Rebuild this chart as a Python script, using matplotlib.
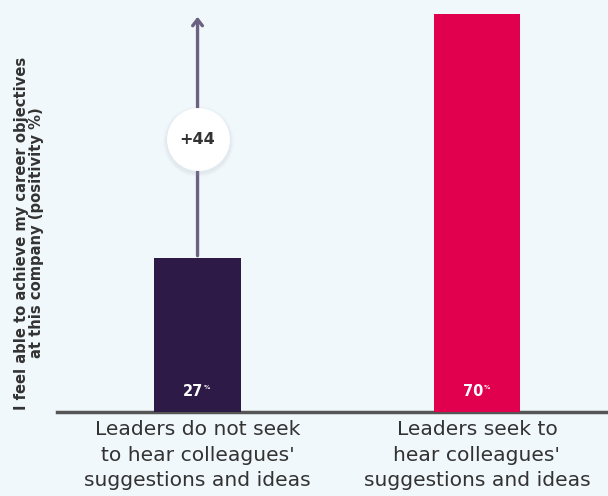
import matplotlib
matplotlib.use("Agg")
import matplotlib.pyplot as plt

categories = ["Leaders do not seek\nto hear colleagues'\nsuggestions and ideas",
              "Leaders seek to\nhear colleagues'\nsuggestions and ideas"]
values = [27, 70]
colors = ["#2e1a47", "#e0004d"]
diff_label = "+44"
ylabel = "I feel able to achieve my career objectives\nat this company (positivity %)"

bg = "#f1f8fb"
fig = plt.figure(figsize=(6.08, 4.96), dpi=100, facecolor=bg)
ax = fig.add_axes([57 / 608, 84 / 496, 551 / 608, 398 / 496], facecolor=bg)

x = [0, 1]
ax.bar(x, values, width=0.311, color=colors, zorder=3)
ax.set_xlim(-0.503, 1.469)
ax.set_ylim(0, 70)

for s in ["top", "right", "left"]:
    ax.spines[s].set_visible(False)
ax.spines["bottom"].set_color("#555555")
ax.spines["bottom"].set_linewidth(2.5)
ax.set_yticks([])
ax.set_xticks(x)
ax.set_xticklabels(categories, fontsize=14.6, color="#333333", linespacing=1.42)
ax.tick_params(axis="x", length=0, pad=6)

# value labels inside the bars
for xi, v in zip(x, values):
    ax.annotate(str(v), (xi, 0), xytext=(-3, 9), textcoords="offset points",
                ha="center", va="bottom", color="white", fontsize=10.5,
                fontweight="bold", zorder=5)
    ax.annotate("%", (xi, 0), xytext=(7, 16), textcoords="offset points",
                ha="center", va="bottom", color="white", fontsize=4.5,
                fontweight="bold", zorder=5)

# gap arrow from the low bar up to the high bar level
ax.annotate("", xy=(x[0], values[1]), xytext=(x[0], values[0]),
            arrowprops=dict(arrowstyle="->,head_length=0.45,head_width=0.35",
                            color="#6b6180", lw=2.4), zorder=2)

# circle badge with soft shadow
cy = values[1] - (139 - 14) / 398 * 70
for s, a in [(2600, 0.04), (2400, 0.05), (2250, 0.07)]:
    ax.scatter([x[0]], [cy - 0.4], s=s, color="#9aa3b0", alpha=a,
               linewidths=0, zorder=3)
ax.scatter([x[0]], [cy], s=2050, color="white", linewidths=0, zorder=4)
ax.text(x[0], cy, diff_label, ha="center", va="center", fontsize=11.5,
        fontweight="bold", color="#333333", zorder=5)

fig.text(29 / 608, 1 - 233 / 496, ylabel, rotation=90, ha="center", va="center",
         fontsize=10.6, fontweight="bold", color="#333333", linespacing=1.0)

fig.savefig("out.png", dpi=100, facecolor=bg)
